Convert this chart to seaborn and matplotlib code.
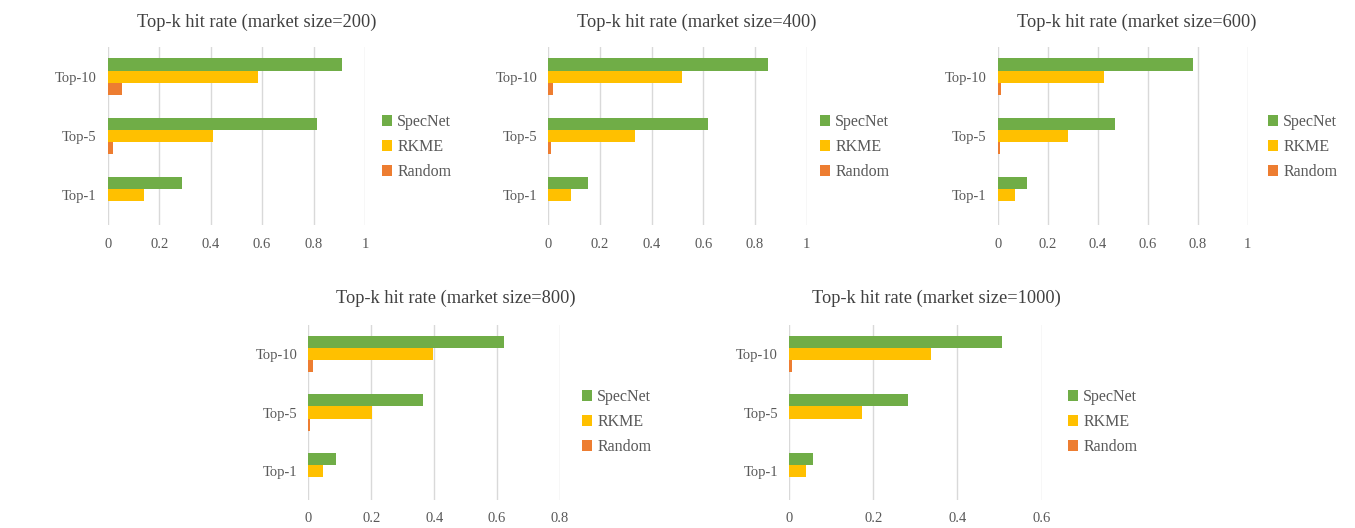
import pandas as pd
import seaborn as sns
import matplotlib.pyplot as plt

plt.rcParams['font.family'] = ['Liberation Serif', 'DejaVu Serif']

# categories and series
topk = ["Top-10", "Top-5", "Top-1"]
methods = ["SpecNet", "RKME", "Random"]
colors = ["#70AD47", "#FFC000", "#ED7D31"]
sizes = [200, 400, 600, 800, 1000]

specnet_200 = [0.91, 0.815, 0.29]
rkme_200 = [0.585, 0.41, 0.14]
random_200 = [0.055, 0.022, 0.0]

specnet_400 = [0.85, 0.617, 0.155]
rkme_400 = [0.516, 0.335, 0.086]
random_400 = [0.019, 0.009, 0.0]

specnet_600 = [0.783, 0.469, 0.116]
rkme_600 = [0.427, 0.28, 0.069]
random_600 = [0.013, 0.01, 0.0]

specnet_800 = [0.623, 0.366, 0.087]
rkme_800 = [0.397, 0.201, 0.048]
random_800 = [0.014, 0.004, 0.0]

specnet_1000 = [0.505, 0.282, 0.056]
rkme_1000 = [0.337, 0.174, 0.04]
random_1000 = [0.008, 0.001, 0.0]

series = {
    200: (specnet_200, rkme_200, random_200),
    400: (specnet_400, rkme_400, random_400),
    600: (specnet_600, rkme_600, random_600),
    800: (specnet_800, rkme_800, random_800),
    1000: (specnet_1000, rkme_1000, random_1000),
}

W, H = 1355, 528
fig = plt.figure(figsize=(W / 100, H / 100), dpi=100)

# layout in pixels: axes left, right, top, bottom; x max; title center x, y; legend x, y
layout = {
    200: (107.7, 365.0, 47, 225, 1.0, 257, 22, 382, 147),
    400: (548.3, 806.7, 47, 225, 1.0, 697, 22, 820, 147),
    600: (997.7, 1247.7, 47, 225, 1.0, 1137, 22, 1268, 147),
    800: (308.3, 560.0, 325, 500, 0.8, 456, 298, 582, 422),
    1000: (789.0, 1041.7, 325, 500, 0.6, 936, 298, 1068, 422),
}

for size in sizes:
    l, r, t, b, xmax, tx, ty, lx, ly = layout[size]
    ax = fig.add_axes([l / W, 1 - b / H, (r - l) / W, (b - t) / H])
    spec, rk, rnd = series[size]
    df = pd.DataFrame({
        "k": topk * 3,
        "rate": spec + rk + rnd,
        "method": [m for m in methods for _ in topk],
    })
    sns.barplot(data=df, x="rate", y="k", hue="method", order=topk,
                hue_order=methods, palette=colors, orient="h", width=0.62,
                saturation=1, linewidth=0, ax=ax)
    ax.set_xlim(0, xmax)
    ax.set_ylim(2.5, -0.5)
    ticks = [round(i * 0.2, 1) for i in range(int(round(xmax / 0.2)) + 1)]
    ax.set_xticks(ticks)
    ax.set_xticklabels(["0" if v == 0 else ("1" if v == 1 else f"{v:.1f}") for v in ticks])
    ax.grid(axis="x", color="#D9D9D9", linewidth=1)
    ax.set_axisbelow(True)
    for s in ax.spines.values():
        s.set_visible(False)
    ax.tick_params(length=0, labelsize=10.5, colors="#595959")
    ax.tick_params(axis="x", pad=9)
    ax.tick_params(axis="y", pad=8)
    ax.set_xlabel("")
    ax.set_ylabel("")
    handles, labels = ax.get_legend_handles_labels()
    ax.get_legend().remove()
    fig.legend(handles, labels, loc="center left", bbox_to_anchor=(lx / W, 1 - ly / H),
               frameon=False, fontsize=11.5, handlelength=0.65, handleheight=0.65,
               handletextpad=0.3, labelspacing=0.56, labelcolor="#595959",
               borderpad=0, borderaxespad=0)
    fig.text(tx / W, 1 - ty / H, f"Top-k hit rate (market size={size})",
             ha="center", va="center", fontsize=13.2, color="#404040")

fig.savefig("out.png", dpi=100)
